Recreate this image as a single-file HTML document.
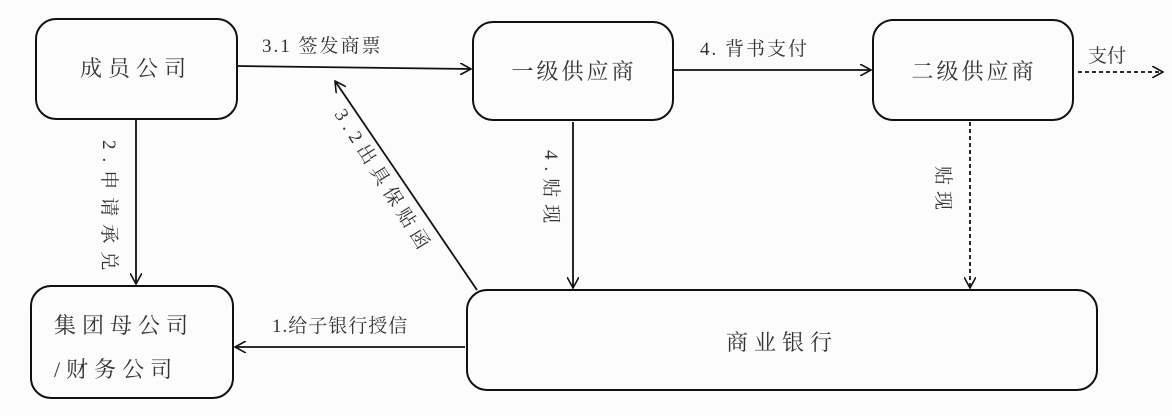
<!DOCTYPE html>
<html><head><meta charset="utf-8"><style>html,body{margin:0;padding:0;background:#fcfcfc}</style></head><body>
<svg width="1172" height="416" xmlns="http://www.w3.org/2000/svg" style="display:block">
<defs>
<marker id="a" viewBox="0 0 12 12" refX="11" refY="6" markerWidth="12" markerHeight="12" markerUnits="userSpaceOnUse" orient="auto"><path d="M0,0 L11,6 L0,12" fill="none" stroke="#111" stroke-width="1.6"/></marker>
</defs>
<g fill="none" stroke="#111" stroke-width="2">
<rect x="36" y="19" width="201" height="100" rx="20"/>
<rect x="31" y="286" width="202" height="112" rx="20"/>
<rect x="473" y="22" width="200" height="98" rx="20"/>
<rect x="873" y="20" width="200" height="100" rx="20"/>
<rect x="467" y="290" width="630" height="100" rx="20"/>
</g>
<g stroke="#111" stroke-width="1.8" fill="none">
<line x1="237" y1="66" x2="471" y2="69" marker-end="url(#a)"/>
<line x1="673" y1="70" x2="871" y2="70" marker-end="url(#a)"/>
<line x1="136" y1="119" x2="136" y2="284" marker-end="url(#a)"/>
<line x1="465" y1="347" x2="235" y2="347" marker-end="url(#a)"/>
<line x1="477" y1="290" x2="335" y2="81" marker-end="url(#a)"/>
<line x1="573" y1="122" x2="573" y2="288" marker-end="url(#a)"/>
<line x1="970" y1="122" x2="970" y2="288" stroke-dasharray="4,3" marker-end="url(#a)"/>
<line x1="1078" y1="72" x2="1163" y2="72" stroke-dasharray="4,3" marker-end="url(#a)"/>
</g>
<g font-family="'Liberation Serif','Noto Serif CJK SC','Noto Sans CJK SC',serif" fill="#333" font-size="20">
<text x="136" y="76" text-anchor="middle" font-size="22" letter-spacing="6">成员公司</text>
<text x="574" y="79" text-anchor="middle" font-size="22" letter-spacing="3">一级供应商</text>
<text x="974" y="79" text-anchor="middle" font-size="22" letter-spacing="3">二级供应商</text>
<text x="782" y="350" text-anchor="middle" font-size="22" letter-spacing="6">商业银行</text>
<text x="54" y="333" font-size="22" letter-spacing="6">集团母公司</text>
<text x="54" y="377" font-size="22" letter-spacing="6">/财务公司</text>
<text x="262" y="52" font-size="19" letter-spacing="2">3.1 签发商票</text>
<text x="700" y="55" font-size="19" letter-spacing="2">4. 背书支付</text>
<text x="1088" y="62" font-size="19">支付</text>
<text x="272" y="332" font-size="19" letter-spacing="1">1.给子银行授信</text>
<text transform="translate(103,140) rotate(90)" font-size="19" letter-spacing="8">2.申请承兑</text>
<text transform="translate(545,150) rotate(90)" font-size="19" letter-spacing="7">4.贴现</text>
<text transform="translate(937,166) rotate(90)" font-size="19" letter-spacing="6">贴现</text>
<text transform="translate(334,114) rotate(58)" font-size="19" letter-spacing="6">3.2出具保贴函</text>
</g>
</svg>
</body></html>
